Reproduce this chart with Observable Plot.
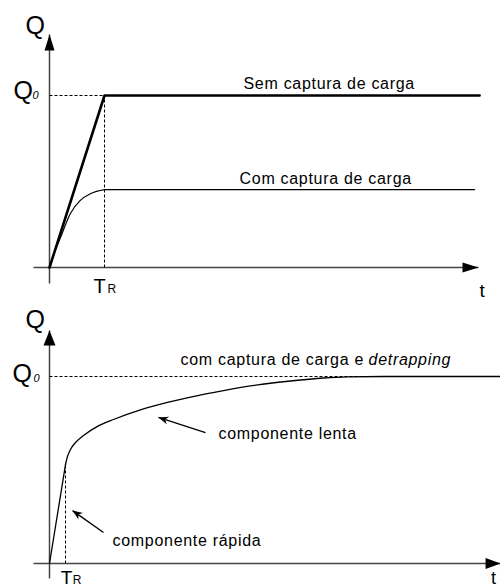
<!DOCTYPE html>
<html><head><meta charset="utf-8">
<script src="https://cdn.jsdelivr.net/npm/d3@7"></script>
<script src="https://cdn.jsdelivr.net/npm/@observablehq/plot@0.6"></script>
<style>
html,body{margin:0;padding:0;background:#fff;}
#chart svg{display:block;overflow:visible;}
#chart svg text{letter-spacing:0.7px;}
</style></head><body><div id="chart"></div>
<script>
const FONT = "'Liberation Sans', Arial, Helvetica, sans-serif";

// ---- Top panel data (t in units of T_R, Q in units of Q0) ----
const semT = [0, 1, 7.82];
const semQ = [0, 1, 1];
const comCurveT = [0, 0.1, 0.2, 0.38, 0.56, 0.75, 1];
const comCurveQ = [0, 0.095, 0.174, 0.314, 0.39, 0.43, 0.453];
const comFlatT = [1, 7.73];
const comFlatQ = [0.453, 0.453];
const topAxisT = [-0.291, 7.8];
const topAxisQ = [-0.093, 1.355];

// ---- Bottom panel data ----
const fastT = [0, 1];
const fastQ = [0, 0.529];
const slowT = [1, 1.125, 1.3125, 1.625, 2.125, 3, 4, 5.6875, 7.375, 8.8125, 10.875, 13, 15.0625, 17.125, 18.625, 20.875, 28.19];
const slowQ = [0.529, 0.572, 0.61, 0.647, 0.684, 0.733, 0.77, 0.821, 0.861, 0.89, 0.925, 0.955, 0.976, 0.992, 0.998, 1, 1];
const botAxisT = [-1, 28.19];
const botAxisQ = [-0.08, 1.246];
const botQ0End = 20.9;

// annotations
const topLabels = [
  {text: "Sem captura de carga", t: 3.527, q: 1.035, size: 16},
  {text: "Com captura de carga", t: 3.455, q: 0.488, size: 16},
  {text: "Q", t: -0.436, q: 1.36, size: 25},
  {text: "Q", t: -0.655, q: 0.977, size: 25},
  {text: "0", t: -0.309, q: 0.977, size: 11, italic: true},
  {text: "T", t: 0.8, q: -0.151, size: 20},
  {text: "R", t: 1.055, q: -0.151, size: 12},
  {text: "t", t: 7.818, q: -0.174, size: 19}
];
const botLabels = [
  {text: "com captura de carga e", t: 8.19, q: 1.059, size: 16},
  {text: "detrapping", t: 19.94, q: 1.059, size: 16, italic: true},
  {text: "componente lenta", t: 10.56, q: 0.668, size: 16},
  {text: "componente rápida", t: 3.94, q: 0.096, size: 16},
  {text: "Q", t: -1.5, q: 1.257, size: 25},
  {text: "Q", t: -2.31, q: 0.973, size: 25},
  {text: "0", t: -1.0, q: 0.973, size: 11, italic: true},
  {text: "T", t: 0.7, q: -0.112, size: 19},
  {text: "R", t: 1.45, q: -0.112, size: 12},
  {text: "t", t: 27.6, q: -0.112, size: 18}
];
const botArrows = [
  {t1: 9.75, q1: 0.70, t2: 6.81, q2: 0.781},
  {t1: 3.375, q1: 0.166, t2: 1.44, q2: 0.283}
];

const rows = (T, Q) => T.map((t, i) => ({t, q: Q[i]}));

function head(len, halfW, notch) {
  return () => {
    const m = d3.create("svg:marker")
      .attr("viewBox", `${-len} ${-halfW} ${len} ${2 * halfW}`)
      .attr("markerWidth", len)
      .attr("markerHeight", 2 * halfW)
      .attr("markerUnits", "userSpaceOnUse")
      .attr("orient", "auto")
      .attr("refX", 0).attr("refY", 0)
      .attr("overflow", "visible");
    m.append("path")
      .attr("d", `M0,0L${-len},${-halfW}L${-len + notch},0L${-len},${halfW}Z`)
      .attr("fill", "black").attr("stroke", "none");
    return m.node();
  };
}

function textMarks(labels) {
  return labels.map(d => Plot.text([d], {
    x: "t", y: "q", text: "text",
    fontSize: d.size, fontFamily: FONT,
    fontStyle: d.italic ? "italic" : "normal",
    textAnchor: "start", lineAnchor: "bottom", fill: "black"
  }));
}

function axes(axT, axQ, headX, headY) {
  return [
    Plot.link([{x1: axT[0], x2: axT[1], y1: 0, y2: 0}], {x1: "x1", x2: "x2", y1: "y1", y2: "y2", stroke: "#444", strokeWidth: 1.5, markerEnd: headX}),
    Plot.link([{x1: 0, x2: 0, y1: axQ[0], y2: axQ[1]}], {x1: "x1", x2: "x2", y1: "y1", y2: "y2", stroke: "#444", strokeWidth: 1.5, markerEnd: headY})
  ];
}

const topPlot = Plot.plot({
  width: 500, height: 300,
  marginLeft: 49, marginRight: 396, marginTop: 95, marginBottom: 33,
  x: {domain: [0, 1], axis: null},
  y: {domain: [0, 1], axis: null},
  style: {fontFamily: FONT, background: "white", overflow: "visible"},
  marks: [
    ...axes(topAxisT, topAxisQ, head(16, 5, 0), head(16, 5, 0)),
    Plot.link([{x1: 0, x2: 1, y1: 1, y2: 1}], {x1: "x1", x2: "x2", y1: "y1", y2: "y2", stroke: "black", strokeWidth: 1, strokeDasharray: "3,2"}),
    Plot.link([{x1: 1, x2: 1, y1: 0, y2: 1}], {x1: "x1", x2: "x2", y1: "y1", y2: "y2", stroke: "black", strokeWidth: 1, strokeDasharray: "3,2"}),
    Plot.line(rows(comCurveT, comCurveQ), {x: "t", y: "q", stroke: "black", strokeWidth: 1.2, curve: "monotone-x"}),
    Plot.line(rows(comFlatT, comFlatQ), {x: "t", y: "q", stroke: "black", strokeWidth: 1.2}),
    Plot.line(rows(semT, semQ), {x: "t", y: "q", stroke: "black", strokeWidth: 2.6, strokeLinejoin: "miter"}),
    ...textMarks(topLabels)
  ]
});

const botPlot = Plot.plot({
  width: 500, height: 288,
  marginLeft: 49, marginRight: 435, marginTop: 76, marginBottom: 25,
  x: {domain: [0, 1], axis: null},
  y: {domain: [0, 1], axis: null},
  style: {fontFamily: FONT, background: "white", overflow: "visible"},
  marks: [
    ...axes(botAxisT, botAxisQ, head(15, 5.5, 0), head(15, 6, 0)),
    Plot.link([{x1: 0, x2: botQ0End, y1: 1, y2: 1}], {x1: "x1", x2: "x2", y1: "y1", y2: "y2", stroke: "black", strokeWidth: 1, strokeDasharray: "3,2"}),
    Plot.link([{x1: fastT[1], x2: fastT[1], y1: 0, y2: fastQ[1]}], {x1: "x1", x2: "x2", y1: "y1", y2: "y2", stroke: "black", strokeWidth: 1, strokeDasharray: "3,2"}),
    Plot.line(rows(fastT, fastQ), {x: "t", y: "q", stroke: "black", strokeWidth: 1.3}),
    Plot.line(rows(slowT, slowQ), {x: "t", y: "q", stroke: "black", strokeWidth: 1.3, curve: "monotone-x"}),
    Plot.link(botArrows, {x1: "t1", y1: "q1", x2: "t2", y2: "q2", stroke: "black", strokeWidth: 1.4, markerEnd: head(10, 4, 3)}),
    ...textMarks(botLabels)
  ]
});

document.getElementById("chart").append(topPlot, botPlot);
</script></body></html>
